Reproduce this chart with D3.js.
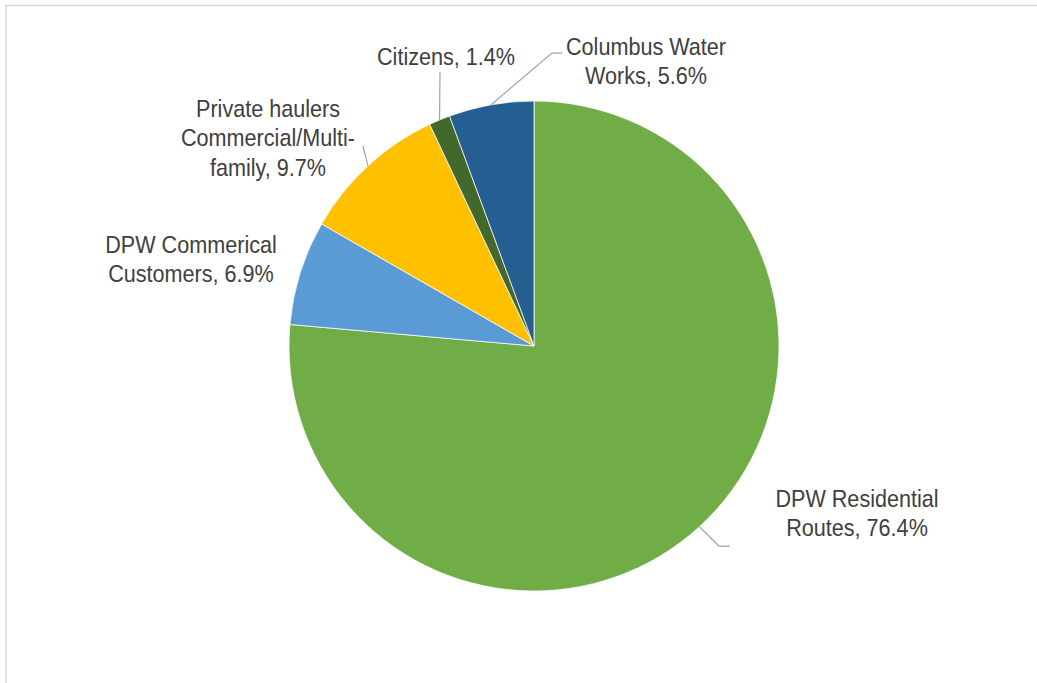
<!DOCTYPE html>
<html>
<head>
<meta charset="utf-8">
<script src="https://cdn.jsdelivr.net/npm/d3@7/dist/d3.min.js"></script>
<style>
  html, body { margin: 0; padding: 0; background: #fff; }
  svg { display: block; }
</style>
</head>
<body>
<div id="chart"></div>
<script>
// Pie chart: collection sources share

const categories = [
    "DPW Residential Routes",
    "DPW Commerical Customers",
    "Private haulers Commercial/Multi-family",
    "Citizens",
    "Columbus Water Works"
];
const values = [76.4, 6.9, 9.7, 1.4, 5.6];
const colors = ["#70AD47", "#5B9BD5", "#FFC000", "#43682B", "#255E91"];

// label text lines (category lines, value appended on the last line)
const labelLines = [
    ["DPW Residential", "Routes,"],
    ["DPW Commerical", "Customers,"],
    ["Private haulers", "Commercial/Multi-", "family,"],
    ["Citizens,"],
    ["Columbus Water", "Works,"]
];

// label placement: text centre x, first baseline y, leader bend points
const LABEL_LAYOUT = [
    { x: 857, y: 507, leader: [[719, 546], [730, 546]] },
    { x: 191, y: 253, leader: [] },
    { x: 268, y: 117, leader: [[363, 146]] },
    { x: 446, y: 65,  leader: [[440, 72]] },
    { x: 646, y: 55,  leader: [[552, 53], [562, 53]] }
];

const CONFIG = {
    width: 1037,
    height: 683,
    cx: 534,
    cy: 346,
    radius: 245,
    fontSize: 24,
    lineHeight: 29.5,
    textScaleX: 0.9,
    textColor: "#404040",
    leaderColor: "#A6A6A6"
};

const svg = d3.select("#chart")
    .append("svg")
    .attr("width", CONFIG.width)
    .attr("height", CONFIG.height);

// chart area border
svg.append("rect")
    .attr("x", 6)
    .attr("y", 5.5)
    .attr("width", CONFIG.width + 20)
    .attr("height", CONFIG.height + 20)
    .attr("fill", "#fff")
    .attr("stroke", "#D9D9D9")
    .attr("stroke-width", 1.5);

const data = categories.map((c, i) => ({ name: c, value: values[i], color: colors[i], idx: i }));

const pie = d3.pie()
    .value(d => d.value)
    .sort(null);

const arc = d3.arc()
    .innerRadius(0)
    .outerRadius(CONFIG.radius);

const arcs = pie(data);

const g = svg.append("g")
    .attr("transform", `translate(${CONFIG.cx},${CONFIG.cy})`);

g.selectAll("path.slice")
    .data(arcs)
    .join("path")
    .attr("class", "slice")
    .attr("d", arc)
    .attr("fill", d => d.data.color)
    .attr("stroke", "#fff")
    .attr("stroke-width", 0.75);

// leader lines: start on the pie edge at the slice mid angle
svg.append("g")
    .selectAll("polyline")
    .data(arcs.filter(d => LABEL_LAYOUT[d.data.idx].leader.length))
    .join("polyline")
    .attr("points", d => {
        const mid = (d.startAngle + d.endAngle) / 2;
        const sx = CONFIG.cx + CONFIG.radius * Math.sin(mid);
        const sy = CONFIG.cy - CONFIG.radius * Math.cos(mid);
        const pts = [[sx, sy]].concat(LABEL_LAYOUT[d.data.idx].leader);
        return pts.map(p => p.join(",")).join(" ");
    })
    .attr("fill", "none")
    .attr("stroke", CONFIG.leaderColor)
    .attr("stroke-width", 1.25);

// labels
const labels = svg.append("g")
    .selectAll("text")
    .data(data)
    .join("text")
    .attr("transform", d => {
        const L = LABEL_LAYOUT[d.idx];
        return `translate(${L.x},${L.y}) scale(${CONFIG.textScaleX},1)`;
    })
    .attr("text-anchor", "middle")
    .attr("font-family", "'Liberation Sans', Arial, sans-serif")
    .attr("font-size", CONFIG.fontSize)
    .attr("fill", CONFIG.textColor);

labels.each(function(d) {
    const lines = labelLines[d.idx].slice();
    lines[lines.length - 1] += " " + d3.format(".1f")(d.value) + "%";
    d3.select(this).selectAll("tspan")
        .data(lines)
        .join("tspan")
        .attr("x", 0)
        .attr("y", (t, i) => i * CONFIG.lineHeight)
        .text(t => t);
});
</script>
</body>
</html>
